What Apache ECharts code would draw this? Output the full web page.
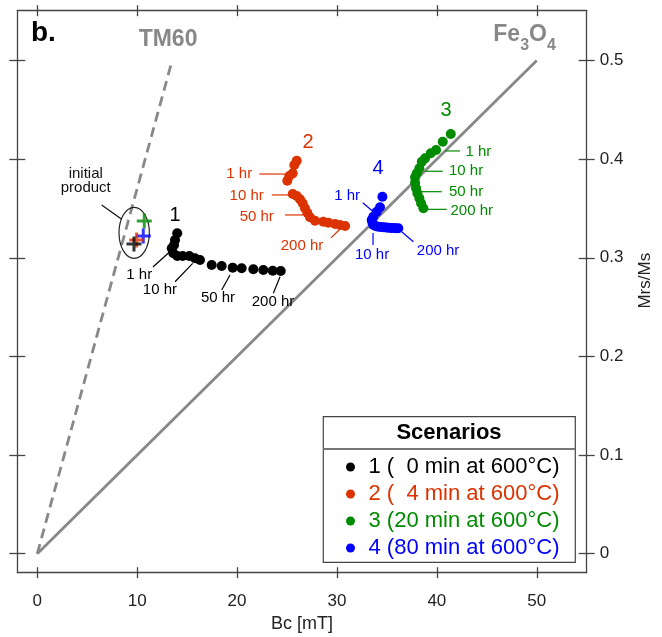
<!DOCTYPE html>
<html><head><meta charset="utf-8">
<script src="https://cdn.jsdelivr.net/npm/echarts@6/dist/echarts.min.js"></script>
<style>html,body{margin:0;padding:0;background:#fff}#c{width:662px;height:637px}</style>
</head><body><div id="c"></div>
<script>
// ---------- data ----------
const xTicks = [0, 10, 20, 30, 40, 50];
const yTicks = [0, 0.1, 0.2, 0.3, 0.4, 0.5];

const scenarioNames = ['1 (  0 min at 600°C)', '2 (  4 min at 600°C)', '3 (20 min at 600°C)', '4 (80 min at 600°C)'];

const s1Bc = [14.01, 13.79, 13.69, 13.46, 13.62, 14.02, 14.56, 15.22, 15.79, 16.29, 17.46, 18.46, 19.56, 20.46, 21.63, 22.63, 23.57, 24.37];
const s1M  = [0.3248, 0.318, 0.313, 0.3096, 0.3045, 0.3018, 0.3018, 0.3018, 0.2995, 0.2978, 0.2927, 0.2917, 0.2900, 0.2893, 0.2883, 0.2876, 0.2869, 0.2866];

const s2Bc = [25.97, 25.73, 25.57, 25.23, 25.03, 25.57, 25.97, 26.30, 26.57, 26.80, 27.03, 27.30, 27.80, 28.63, 29.13, 29.80, 30.30, 30.81];
const s2M  = [0.3984, 0.3941, 0.3856, 0.3829, 0.3781, 0.3647, 0.3626, 0.3593, 0.3552, 0.3502, 0.3457, 0.3410, 0.3376, 0.3366, 0.3356, 0.3342, 0.3332, 0.3322];

const s3Bc = [41.39, 40.59, 39.92, 39.39, 38.82, 38.49, 38.25, 37.99, 37.82, 37.82, 37.92, 38.05, 38.25, 38.42, 38.65];
const s3M  = [0.4255, 0.4177, 0.4093, 0.4059, 0.4008, 0.3974, 0.3907, 0.3856, 0.3816, 0.3761, 0.3704, 0.3654, 0.3603, 0.3552, 0.3502];

const s4Bc = [34.55, 34.31, 33.98, 33.64, 33.48, 33.55, 33.64, 33.90, 34.14, 34.40, 34.64, 34.90, 35.14, 35.40, 35.64, 35.90, 36.14];
const s4M  = [0.3619, 0.3512, 0.3467, 0.3416, 0.3383, 0.3355, 0.3332, 0.3320, 0.3315, 0.3312, 0.3309, 0.3307, 0.3305, 0.3303, 0.3302, 0.3300, 0.3299];

// initial products (scenario 1..4)
const initBc = [9.68, 9.95, 10.71, 10.61];
const initM  = [0.314, 0.318, 0.3373, 0.3221];

// reference lines
const tm60Line  = [[0, 0], [13.5, 0.5]];
const fe3o4Line = [[0, 0], [50, 0.5]];

// ellipse around initial products (data units)
const ellipseCenter = [9.70, 0.3253];
const ellipseRadii  = [1.52, 0.02585];

// annotations: [text, group, textX, textY, leaderX1, leaderY1, leaderX2, leaderY2]
const notes = [
  ['1', 0, 13.79, 0.3432],
  ['1 hr', 0, 10.21, 0.2825, 11.58, 0.2906, 13.46, 0.3079],
  ['10 hr', 0, 12.28, 0.2672, 13.79, 0.2757, 15.56, 0.2944],
  ['50 hr', 0, 18.09, 0.2592, 18.46, 0.2673, 19.29, 0.2826],
  ['200 hr', 0, 23.60, 0.2552, 23.63, 0.2640, 24.30, 0.2808],
  ['2', 1, 27.10, 0.4173],
  ['1 hr', 1, 20.22, 0.3846, 22.23, 0.3849, 24.80, 0.3849],
  ['10 hr', 1, 20.96, 0.3626, 23.47, 0.3637, 25.37, 0.3637],
  ['50 hr', 1, 21.97, 0.3416, 24.80, 0.3434, 26.63, 0.3434],
  ['200 hr', 1, 26.50, 0.3119, 29.41, 0.3201, 30.31, 0.3292],
  ['3', 2, 40.92, 0.4498],
  ['1 hr', 2, 44.15, 0.4075, 40.82, 0.4083, 42.32, 0.4083],
  ['10 hr', 2, 42.92, 0.3877, 38.82, 0.3877, 40.59, 0.3877],
  ['50 hr', 2, 42.92, 0.3670, 38.49, 0.3670, 40.49, 0.3670],
  ['200 hr', 2, 43.49, 0.3477, 38.99, 0.3491, 40.99, 0.3491],
  ['4', 3, 34.11, 0.3910],
  ['1 hr', 3, 31.01, 0.3624, 32.58, 0.3558, 33.64, 0.3467],
  ['10 hr', 3, 33.51, 0.3028, 33.61, 0.3251, 33.61, 0.3130],
  ['200 hr', 3, 40.12, 0.3069, 36.48, 0.3264, 37.65, 0.3163],
  ['initial\nproduct', 4, 4.85, 0.3781, 6.45, 0.3535, 8.45, 0.3390]
];

// reference line labels: [text, x, y]
const refLabels = [
  ['TM60', 13.09, 0.5215],
  ['Fe3O4', 48.78, 0.5222]
];

// ---------- styles ----------
const FF = '"Liberation Sans", Arial, Helvetica, sans-serif';
const colors = ['#000000', '#dc3200', '#008b00', '#0000ff', '#111111'];
const axisCol = '#444';
const refGray = '#888888';

const zip = (a, b) => a.map((v, i) => [v, b[i]]);

function xAx(pos, inside, main) {
  return {
    type: 'value', position: pos, min: -2, max: 55,
    axisLine: { show: main, onZero: false, lineStyle: { color: axisCol, width: 1.3 } },
    axisTick: { show: true, inside: inside, length: 5.5, customValues: xTicks, lineStyle: { color: axisCol, width: 1.3 } },
    axisLabel: { show: main && pos === 'bottom', customValues: xTicks, margin: 20, color: '#222', fontSize: 17, fontFamily: FF },
    splitLine: { show: false },
    name: (main && pos === 'bottom') ? 'Bc [mT]' : '',
    nameLocation: 'middle', nameGap: 42,
    nameTextStyle: { color: '#222', fontSize: 18, fontFamily: FF }
  };
}
function yAx(pos, inside, main) {
  return {
    type: 'value', position: pos, min: -0.0193, max: 0.5505,
    axisLine: { show: main, onZero: false, lineStyle: { color: axisCol, width: 1.3 } },
    axisTick: { show: true, inside: inside, length: 8, customValues: yTicks, lineStyle: { color: axisCol, width: 1.3 } },
    axisLabel: { show: main && pos === 'right', customValues: yTicks, margin: 13, color: '#222', fontSize: 17, fontFamily: FF },
    splitLine: { show: false },
    name: (main && pos === 'right') ? 'Mrs/Ms' : '',
    nameLocation: 'middle', nameGap: 50, nameRotate: 90,
    nameTextStyle: { color: '#222', fontSize: 17, fontFamily: FF, padding: [0, 0, 0, 22] }
  };
}

const scatterData = [zip(s1Bc, s1M), zip(s2Bc, s2M), zip(s3Bc, s3M), zip(s4Bc, s4M)];

const crossPath = 'path://M6,0h3v6h6v3h-6v6h-3v-6h-6v-3h6z';
const initOrder = [2, 3, 1, 0];

const series = [];
// reference lines
series.push({
  type: 'line', data: tm60Line, symbol: 'none', silent: true, z: 1,
  lineStyle: { color: refGray, width: 2.8, type: [10, 6] }
});
series.push({
  type: 'line', data: fe3o4Line, symbol: 'none', silent: true, z: 1,
  lineStyle: { color: refGray, width: 2.8 }
});
// scenario scatters
scenarioNames.forEach((nm, i) => {
  series.push({
    name: nm, type: 'scatter', data: scatterData[i], symbol: 'circle', symbolSize: 10, z: 3,
    itemStyle: { color: colors[i], opacity: 1 }, silent: true
  });
});
// initial product crosses
series.push({
  type: 'scatter', symbol: crossPath, symbolSize: 15, z: 4, silent: true,
  data: initOrder.map(i => ({ value: [initBc[i], initM[i]], itemStyle: { color: colors[i] } }))
});
// ellipse
series.push({
  type: 'custom', coordinateSystem: 'cartesian2d', clip: false, silent: true, z: 4,
  data: [ellipseCenter],
  renderItem: (params, api) => {
    const c = api.coord(ellipseCenter);
    const s = api.size(ellipseRadii);
    return { type: 'ellipse', shape: { cx: c[0], cy: c[1], rx: s[0], ry: s[1] },
      style: { fill: 'none', stroke: '#222', lineWidth: 1.2 } };
  }
});
// annotations
series.push({
  type: 'custom', coordinateSystem: 'cartesian2d', clip: false, silent: true, z: 5,
  data: notes.map(n => [n[2], n[3]]),
  renderItem: (params, api) => {
    const n = notes[params.dataIndex];
    const p = api.coord([n[2], n[3]]);
    const col = colors[n[1]];
    const big = /^\d$/.test(n[0]);
    const children = [{
      type: 'text',
      style: { text: n[0], x: p[0], y: p[1], fill: col,
        fontSize: big ? 20 : 15, fontFamily: FF, lineHeight: 14,
        align: 'center', verticalAlign: 'middle' }
    }];
    if (n.length > 4) {
      const a = api.coord([n[4], n[5]]), b = api.coord([n[6], n[7]]);
      children.push({ type: 'line', shape: { x1: a[0], y1: a[1], x2: b[0], y2: b[1] },
        style: { stroke: col, lineWidth: 1.2 } });
    }
    return { type: 'group', children };
  }
});
// reference labels
series.push({
  type: 'custom', coordinateSystem: 'cartesian2d', clip: false, silent: true, z: 5,
  data: refLabels.map(r => [r[1], r[2]]),
  renderItem: (params, api) => {
    const r = refLabels[params.dataIndex];
    const p = api.coord([r[1], r[2]]);
    let text = r[0];
    if (r[0] === 'Fe3O4') text = '{a|Fe}{s|3}{a|O}{s|4}';
    return {
      type: 'text',
      style: { text, x: p[0], y: p[1], fill: refGray, fontSize: 23, fontWeight: 'bold', fontFamily: FF,
        align: 'center', verticalAlign: 'middle',
        rich: {
          a: { fontSize: 23, fontWeight: 'bold', fontFamily: FF, fill: refGray, color: refGray, lineHeight: 30, verticalAlign: 'top' },
          s: { fontSize: 16, fontWeight: 'bold', fontFamily: FF, fill: refGray, color: refGray, lineHeight: 30, verticalAlign: 'bottom', padding: [10, 0, 0, 0] }
        } }
    };
  }
});

const option = {
  animation: false,
  backgroundColor: '#fff',
  grid: { left: 17.3, right: 75.3, top: 10.7, bottom: 64.3, outerBoundsMode: 'none', containLabel: false },
  xAxis: [xAx('bottom', false, true), xAx('bottom', true, false), xAx('top', false, true), xAx('top', true, false)],
  yAxis: [yAx('left', false, true), yAx('left', true, false), yAx('right', false, true), yAx('right', true, false)],
  legend: {
    orient: 'vertical', left: 341, top: 451, itemWidth: 26, itemHeight: 9, itemGap: 5,
    icon: 'circle', selectedMode: false, z: 10,
    textStyle: { fontSize: 22, fontFamily: FF },
    data: scenarioNames.map((n, i) => ({ name: n, textStyle: { color: colors[i] } }))
  },
  graphic: [
    { type: 'rect', z: 6, shape: { x: 323.3, y: 416.7, width: 252, height: 145.6 },
      style: { fill: '#fff', stroke: axisCol, lineWidth: 1.2 } },
    { type: 'line', z: 7, shape: { x1: 323.3, y1: 449, x2: 575.3, y2: 449 },
      style: { stroke: '#777', lineWidth: 2 } },
    { type: 'text', z: 7, style: { text: 'Scenarios', x: 449, y: 433, fill: '#000', fontSize: 22, fontWeight: 'bold', fontFamily: FF, align: 'center', verticalAlign: 'middle' } },
    { type: 'text', z: 7, style: { text: 'b.', x: 31, y: 33, fill: '#000', fontSize: 28, fontWeight: 'bold', fontFamily: FF, align: 'left', verticalAlign: 'middle' } }
  ],
  series
};

const chart = echarts.init(document.getElementById('c'), null, { renderer: 'canvas' });
chart.setOption(option);
</script>
</body></html>
